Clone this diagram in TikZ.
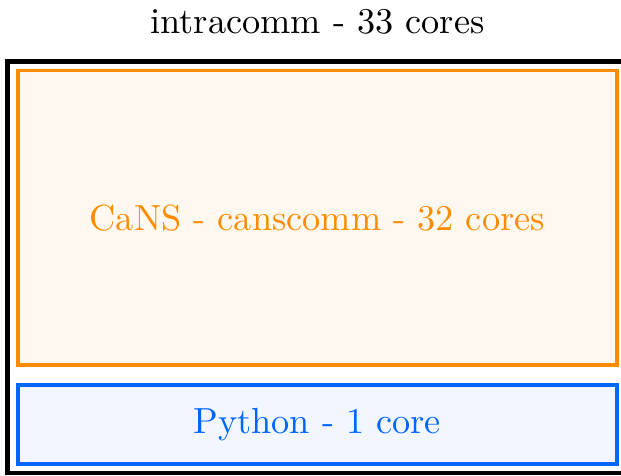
\documentclass[tikz,border=0pt]{standalone}
\usepackage{fontspec}
\definecolor{cansorange}{RGB}{255,140,0}
\definecolor{cansfill}{RGB}{255,248,240}
\definecolor{pyblue}{RGB}{0,102,255}
\definecolor{pyfill}{RGB}{241,246,255}
\begin{document}
\begin{tikzpicture}[x=0.2755pt,y=-0.2755pt,
  outerbox/.style={draw=black,line width=1.15pt,inner sep=0pt,minimum width=170.67pt,minimum height=113.37pt},
  cansbox/.style={draw=cansorange,fill=cansfill,text=cansorange,line width=1.1pt,inner sep=0pt,minimum width=164.89pt,minimum height=81.13pt},
  pybox/.style={draw=pyblue,fill=pyfill,text=pyblue,line width=1.1pt,inner sep=0pt,minimum width=164.89pt,minimum height=21.76pt},
  lbl/.style={inner sep=0pt,font=\normalsize}]
\useasboundingbox (0,0) rectangle (621,475);
\node[outerbox] (intra) at (317.25,267.25) {};
\node[cansbox] (cans) at (317.25,217.75) {CaNS - canscomm - 32 cores};
\node[pybox] (py) at (317.25,424.5) {Python - 1 core};
\node[lbl] (title) at (317.5,22) {intracomm - 33 cores};
\end{tikzpicture}
\end{document}
